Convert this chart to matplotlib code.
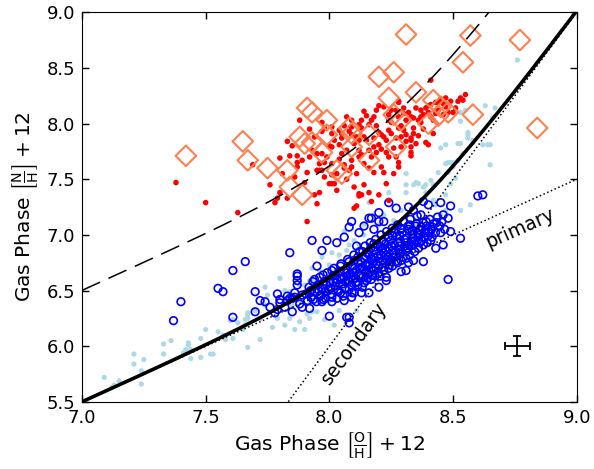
import numpy as np
import matplotlib
matplotlib.use("Agg")
import matplotlib.pyplot as plt

# --- data ------------------------------------------------------------------
# light blue filled dots
lb_x = [7.09, 7.12, 7.13, 7.15, 7.21, 7.21, 7.25, 7.24, 7.24, 7.33, 7.33, 7.36,
        7.41, 7.42, 7.44, 7.43, 7.44, 7.48, 7.50, 7.48, 7.52, 7.53, 7.55, 7.57,
        7.58, 7.60, 7.61, 7.65, 7.66, 7.66, 7.67, 7.67, 7.67, 7.43, 7.61, 7.63,
        7.67, 7.72, 7.74, 7.75, 7.80, 7.82, 7.77, 7.82, 7.79, 7.70, 7.72, 7.74,
        7.76, 7.84, 7.86, 7.88, 7.90, 7.92, 7.95, 7.98, 8.02, 8.04, 7.88, 7.85,
        7.92, 7.96, 8.00, 8.03, 8.06, 8.04, 8.08, 8.10, 8.14, 8.16, 8.18, 8.22,
        8.24, 8.31, 8.35, 8.38, 8.42, 8.31, 8.31, 8.34, 8.36, 8.39, 8.41, 8.44,
        8.48, 8.49, 8.53, 8.56, 8.58, 8.64, 8.65, 8.49, 8.47, 8.43, 8.47, 8.39,
        8.42, 8.76, 8.63, 8.67, 8.66, 8.53, 8.53, 8.56, 8.56, 8.58, 8.52, 8.62,
        8.47, 8.45, 8.54, 8.52, 8.50, 8.47, 8.50, 8.48, 8.51, 8.65, 8.55, 8.37,
        8.29, 8.26, 8.20, 8.14, 8.12, 8.07, 8.00, 7.96, 7.93, 7.90, 8.22, 8.26,
        8.31, 8.35, 8.39, 8.45, 8.53, 8.57, 7.83, 7.84, 7.88, 7.92, 7.93, 7.97,
        8.01, 7.91, 8.00, 8.07, 8.11, 7.93]
lb_y = [5.72, 5.63, 5.65, 5.69, 5.93, 5.84, 5.88, 5.78, 5.66, 6.02, 5.93, 6.05,
        5.94, 5.97, 5.97, 6.01, 5.89, 6.07, 6.15, 5.90, 5.93, 5.93, 6.13, 6.10,
        6.06, 6.23, 6.07, 6.15, 6.19, 6.24, 6.28, 6.30, 5.99, 6.03, 6.24, 6.21,
        6.25, 6.06, 6.53, 6.46, 6.61, 6.50, 6.17, 6.19, 6.25, 6.32, 6.25, 6.37,
        6.31, 6.25, 6.15, 6.22, 6.15, 6.25, 6.31, 6.24, 6.19, 6.32, 6.41, 6.37,
        6.41, 6.50, 6.59, 6.68, 7.03, 6.82, 6.91, 6.95, 7.09, 7.29, 7.18, 7.18,
        7.38, 7.45, 7.47, 7.43, 7.45, 7.55, 7.38, 7.45, 7.46, 7.45, 7.49, 7.56,
        7.65, 7.65, 7.82, 7.90, 7.85, 7.81, 7.81, 7.46, 7.36, 7.27, 7.22, 7.38,
        7.31, 8.57, 8.16, 8.14, 8.05, 8.10, 8.02, 7.92, 7.87, 7.83, 7.82, 7.81,
        7.81, 7.78, 7.73, 7.67, 7.65, 7.64, 7.61, 7.56, 7.51, 7.63, 8.12, 7.31,
        7.22, 7.13, 7.09, 7.00, 6.91, 6.86, 6.73, 6.68, 6.59, 6.55, 6.95, 7.00,
        7.06, 7.09, 7.15, 7.18, 7.22, 7.27, 6.41, 6.49, 6.55, 6.59, 6.70, 6.80,
        6.84, 6.29, 6.41, 6.44, 6.32, 6.31]

# blue open circles: scattered outliers, then the dense band
bc_outer = [(7.37, 6.23), (7.40, 6.40), (7.55, 6.52), (7.57, 6.49), (7.61, 6.68),
            (7.66, 6.76), (7.61, 6.26), (7.70, 6.49), (7.70, 6.31), (7.72, 6.41),
            (7.74, 6.40), (7.79, 6.47), (7.80, 6.42), (7.84, 6.84), (7.87, 6.55),
            (7.87, 6.63), (7.85, 6.31), (7.83, 6.41), (7.84, 6.43), (7.85, 6.43),
            (7.79, 6.33), (7.93, 6.95), (7.97, 6.86), (7.99, 6.95), (8.03, 6.93),
            (8.08, 7.07), (8.09, 7.12), (8.16, 7.15), (8.17, 7.15), (8.20, 7.12),
            (8.20, 7.20), (8.24, 7.29), (8.27, 7.24), (8.32, 7.25), (8.34, 7.22),
            (8.37, 7.18), (8.38, 7.30), (8.40, 7.27), (8.45, 7.29), (8.49, 7.26),
            (8.48, 7.15), (8.49, 7.03), (8.53, 6.97), (8.46, 6.91), (8.48, 6.60),
            (8.60, 7.35), (8.62, 7.36), (8.08, 6.26), (8.08, 6.21), (7.82, 6.35),
            (7.95, 6.72), (7.87, 6.65), (7.87, 6.59), (7.80, 6.39), (7.86, 6.44),
            (7.89, 6.46), (7.92, 6.49), (7.89, 6.35), (7.92, 6.34), (8.00, 6.27),
            (8.07, 6.26), (8.09, 6.44), (8.38, 6.76), (8.32, 6.75), (8.29, 6.67),
            (8.23, 6.62), (8.13, 6.48), (8.10, 6.48), (8.01, 6.40), (7.97, 6.40),
            (8.03, 6.43), (8.06, 6.41), (7.76, 6.35), (7.78, 6.30), (7.83, 6.45),
            (7.86, 6.48), (7.88, 6.38), (8.06, 6.98), (8.12, 7.02), (8.14, 7.08),
            (8.18, 7.05), (8.11, 6.90), (8.22, 7.12), (8.34, 6.77), (8.31, 6.68),
            (8.23, 6.59), (8.20, 6.53), (8.16, 6.48), (8.43, 6.88), (8.41, 6.95)]
bc_core = [(7.905, 6.47), (7.912, 6.41), (7.918, 6.53), (7.927, 6.44), (7.934, 6.58),
           (7.941, 6.49), (7.948, 6.40), (7.953, 6.55), (7.961, 6.62), (7.966, 6.46),
           (7.972, 6.52), (7.979, 6.58), (7.984, 6.43), (7.991, 6.66), (7.996, 6.51),
           (8.003, 6.57), (8.008, 6.47), (8.014, 6.63), (8.019, 6.70), (8.024, 6.54),
           (8.031, 6.60), (8.036, 6.49), (8.042, 6.67), (8.047, 6.74), (8.053, 6.56),
           (8.058, 6.62), (8.063, 6.52), (8.068, 6.69), (8.074, 6.78), (8.079, 6.59),
           (8.084, 6.65), (8.089, 6.55), (8.094, 6.72), (8.099, 6.82), (8.104, 6.61),
           (8.108, 6.68), (8.113, 6.58), (8.117, 6.75), (8.122, 6.85), (8.126, 6.64),
           (8.131, 6.71), (8.135, 6.62), (8.139, 6.79), (8.144, 6.90), (8.148, 6.67),
           (8.152, 6.74), (8.157, 6.65), (8.161, 6.82), (8.165, 6.93), (8.169, 6.70),
           (8.174, 6.78), (8.178, 6.68), (8.183, 6.86), (8.187, 6.96), (8.191, 6.74),
           (8.196, 6.81), (8.201, 6.72), (8.205, 6.89), (8.209, 7.00), (8.214, 6.77),
           (8.218, 6.84), (8.223, 6.75), (8.227, 6.92), (8.231, 7.03), (8.236, 6.80),
           (8.241, 6.88), (8.245, 6.78), (8.249, 6.95), (8.254, 7.06), (8.258, 6.84),
           (8.263, 6.91), (8.267, 6.82), (8.272, 6.99), (8.276, 7.09), (8.281, 6.87),
           (8.286, 6.94), (8.291, 6.85), (8.295, 7.02), (8.301, 7.12), (8.306, 6.90),
           (8.311, 6.97), (8.316, 6.88), (8.321, 7.05), (8.327, 7.14), (8.332, 6.94),
           (8.338, 7.01), (8.343, 6.92), (8.349, 7.08), (8.355, 7.17), (8.361, 6.98),
           (8.367, 7.04), (8.373, 6.95), (8.379, 7.11), (8.386, 7.02), (8.393, 7.08),
           (8.399, 6.99), (8.406, 7.14), (8.413, 7.05), (8.421, 7.10), (8.429, 7.02),
           (8.437, 7.16), (8.446, 7.08), (8.455, 7.12), (8.466, 7.05),
           (7.925, 6.50), (7.958, 6.50), (7.988, 6.55), (8.016, 6.58), (8.044, 6.61),
           (8.071, 6.63), (8.097, 6.66), (8.124, 6.70), (8.150, 6.72), (8.176, 6.75),
           (8.203, 6.79), (8.229, 6.82), (8.256, 6.86), (8.283, 6.90), (8.309, 6.93),
           (8.336, 6.97), (8.362, 7.00), (8.388, 7.04), (7.940, 6.60), (7.975, 6.64),
           (8.010, 6.68), (8.045, 6.72), (8.080, 6.76), (8.115, 6.80), (8.150, 6.84),
           (8.185, 6.89), (8.220, 6.94), (8.255, 6.99), (8.290, 7.05), (8.325, 7.09),
           (7.975, 6.42), (8.010, 6.44), (8.045, 6.48), (8.080, 6.51), (8.115, 6.55),
           (8.150, 6.59), (8.185, 6.63), (8.220, 6.68), (8.255, 6.72), (8.290, 6.77),
           (8.325, 6.82), (8.360, 6.88), (8.395, 6.93),
           (7.935, 6.42), (7.962, 6.45), (7.983, 6.49), (8.006, 6.52), (8.027, 6.57),
           (8.033, 6.51), (8.051, 6.60), (8.056, 6.45), (8.066, 6.58), (8.072, 6.66),
           (8.087, 6.62), (8.092, 6.48), (8.102, 6.70), (8.106, 6.57), (8.119, 6.64),
           (8.128, 6.76), (8.133, 6.53), (8.142, 6.69), (8.146, 6.81), (8.155, 6.61),
           (8.163, 6.73), (8.167, 6.88), (8.172, 6.64), (8.181, 6.80), (8.189, 6.70),
           (8.194, 6.91), (8.199, 6.66), (8.207, 6.82), (8.212, 6.95), (8.216, 6.71),
           (8.225, 6.87), (8.233, 6.78), (8.238, 6.98), (8.243, 6.73), (8.251, 6.90),
           (8.259, 6.80), (8.265, 7.02), (8.269, 6.76), (8.278, 6.93), (8.284, 6.83),
           (8.289, 7.06), (8.297, 6.80), (8.303, 6.96), (8.313, 6.86), (8.318, 7.08),
           (8.329, 6.90), (8.334, 7.04), (8.345, 6.95), (8.352, 7.10), (8.364, 6.93),
           (8.371, 7.07), (8.382, 6.98), (8.391, 7.12), (8.402, 7.03), (8.417, 7.07),
           (8.433, 7.11), (8.450, 7.02), (8.460, 7.18), (8.025, 6.64), (8.060, 6.68),
           (8.095, 6.60), (8.135, 6.85), (8.170, 6.60), (8.205, 6.63), (8.240, 6.70),
           (8.275, 6.75), (8.310, 6.79), (8.345, 6.85), (8.380, 6.91), (8.415, 6.98),
           (8.100, 6.77), (8.140, 6.57), (8.180, 6.92), (8.215, 6.88), (8.250, 6.76),
           (8.285, 6.99), (8.320, 6.91), (8.355, 7.02)]

# red filled dots
rd_x = [7.38, 7.50, 7.63, 7.69, 7.76, 7.80, 7.78, 7.80, 7.83, 7.84, 7.87, 7.87,
        7.87, 7.86, 7.88, 7.90, 7.91, 7.92, 7.93, 7.95, 7.97, 7.95, 7.96, 7.97,
        7.98, 7.96, 7.97, 7.97, 8.00, 7.79, 7.83, 7.81, 7.91, 7.95, 8.01, 8.02,
        8.06, 8.11, 8.12, 8.10, 7.94, 8.10, 8.13, 8.17, 8.20, 8.23, 8.41, 8.55,
        8.52, 8.47, 8.46, 8.44, 8.43, 8.41, 8.39, 8.37, 8.35, 8.50, 8.48, 8.46,
        8.43, 8.40, 8.41, 8.37, 8.37, 8.34, 8.33, 8.31, 8.30, 8.28, 8.27, 8.28,
        8.28, 8.25, 8.24, 8.24, 8.22, 8.20, 8.18, 8.17, 8.16, 8.14, 8.13, 8.12,
        8.09, 8.09, 8.07, 8.04, 8.05, 8.05, 8.01, 8.01, 7.98, 8.30, 8.31, 8.33,
        8.34, 8.33, 8.35, 8.28, 8.29, 8.24, 8.25, 8.22, 8.21, 8.20, 8.18, 8.20,
        8.18, 8.16, 8.19, 8.39, 8.40, 8.42, 8.33, 8.33, 8.33, 8.29, 8.27, 8.28,
        8.28, 8.23, 8.24, 8.14, 8.12, 8.13, 8.12, 8.09, 8.09, 8.14, 8.16, 8.18,
        8.21, 8.22, 8.12, 8.16, 8.03, 8.01, 8.03, 8.06, 8.08, 8.05, 8.01, 7.96,
        8.01, 8.04, 8.12, 8.09, 8.11, 8.54, 8.24]
rd_y = [7.47, 7.29, 7.20, 7.63, 7.45, 7.38, 7.29, 7.69, 7.84, 7.71, 7.71, 7.65,
        7.61, 7.52, 8.03, 7.47, 7.56, 7.95, 7.76, 7.73, 7.73, 7.58, 7.58, 7.58,
        7.65, 7.38, 8.01, 7.93, 7.46, 7.33, 7.33, 7.55, 7.12, 7.28, 7.46, 7.46,
        7.63, 7.26, 7.35, 7.24, 7.36, 7.43, 7.36, 7.30, 7.36, 7.46, 8.39, 8.26,
        8.20, 8.23, 8.18, 8.19, 8.19, 8.17, 8.14, 8.12, 8.14, 8.10, 8.10, 8.08,
        8.09, 8.10, 8.06, 8.06, 8.01, 8.05, 8.06, 8.03, 8.09, 8.06, 8.12, 8.19,
        8.20, 8.12, 8.08, 8.03, 8.15, 8.16, 8.06, 8.03, 7.99, 8.11, 8.03, 7.99,
        8.03, 7.97, 8.06, 7.94, 7.91, 7.87, 7.97, 7.91, 7.96, 7.94, 7.90, 7.87,
        7.91, 7.85, 7.82, 7.96, 7.88, 7.94, 7.91, 7.88, 7.90, 7.92, 7.87, 7.81,
        7.79, 7.76, 7.74, 7.83, 7.81, 7.91, 7.79, 7.74, 7.71, 7.79, 7.70, 7.65,
        7.61, 7.74, 7.70, 7.88, 7.85, 7.72, 7.70, 7.67, 7.61, 7.64, 7.60, 7.56,
        7.61, 7.56, 7.37, 7.38, 7.55, 7.54, 7.40, 7.60, 7.58, 7.73, 7.79, 7.64,
        7.64, 7.81, 7.76, 7.90, 7.88, 8.21, 7.31]
rd_extra = [(7.85, 7.80), (7.89, 7.67), (7.94, 7.88), (7.99, 7.70), (8.02, 7.85),
            (8.04, 7.68), (8.07, 7.76), (8.08, 7.93), (8.10, 7.82), (8.11, 7.55),
            (8.13, 7.96), (8.15, 7.85), (8.17, 7.70), (8.19, 7.98), (8.21, 7.77),
            (8.23, 7.85), (8.25, 8.01), (8.26, 7.78), (8.27, 7.87), (8.29, 7.98),
            (8.30, 8.14), (8.31, 7.84), (8.32, 8.10), (8.34, 7.96), (8.36, 8.03),
            (8.36, 7.89), (8.38, 8.08), (8.38, 7.95), (8.40, 8.16), (8.42, 8.03),
            (8.44, 8.12), (8.45, 8.22), (8.47, 8.15), (8.49, 8.20), (8.51, 8.14),
            (8.53, 8.23), (8.19, 8.12), (8.15, 8.07), (8.06, 7.98), (8.00, 7.80),
            (7.92, 7.70), (7.98, 7.52), (8.14, 7.45), (8.26, 7.55), (8.07, 7.50)]

# coral open diamonds
dm_x = [7.42, 7.65, 7.67, 7.75, 7.83, 7.84, 7.89, 7.88, 7.90, 7.93, 7.91, 7.93,
        7.97, 7.99, 7.99, 8.08, 8.09, 8.03, 8.05, 8.16, 8.20, 8.26, 8.31, 8.57,
        8.77, 8.54, 8.24, 8.35, 8.42, 8.26, 8.29, 8.45, 8.48, 8.44, 8.58, 8.40,
        8.27, 8.84, 8.09, 8.16]
dm_y = [7.71, 7.84, 7.67, 7.60, 7.58, 7.43, 7.36, 7.88, 7.82, 7.83, 8.14, 8.10,
        7.74, 8.03, 7.90, 7.96, 7.91, 7.58, 7.55, 7.67, 8.42, 8.46, 8.80, 8.79,
        8.75, 8.55, 8.23, 8.28, 8.21, 8.08, 8.03, 8.15, 8.10, 8.07, 8.08, 8.00,
        7.79, 7.96, 7.79, 7.90]

# typical uncertainty marker
err_x, err_y = 8.76, 6.00
err_dx, err_dy = 0.05, 0.09

# model tracks: log(N/H) = log(10^(O + prim) + 10^(3 O + sec))
prim_off = -1.5
sec_slope, sec_off = 3.0, -18.0
upper_shift = 1.0

bc_x = [p[0] for p in bc_outer + bc_core]
bc_y = [p[1] for p in bc_outer + bc_core]
red_x = rd_x + [p[0] for p in rd_extra]
red_y = rd_y + [p[1] for p in rd_extra]

plt.rcParams["mathtext.default"] = "regular"

fig = plt.figure(figsize=(5.94, 4.69), dpi=100)
ax = fig.add_axes([0.138, 0.143, 0.833, 0.831])

ax.scatter(lb_x, lb_y, s=14, color="lightblue", edgecolors="none", zorder=1)
ax.scatter(bc_x, bc_y, s=30, facecolors="none", edgecolors="blue",
           linewidths=1.2, zorder=2)
ax.scatter(red_x, red_y, s=16, color="red", edgecolors="none", zorder=3)
ax.scatter(dm_x, dm_y, s=110, marker="D", facecolors="none", edgecolors="coral",
           linewidths=1.5, zorder=4)

oh = np.linspace(7.0, 9.0, 400)
solid = np.log10(10 ** (oh + prim_off) + 10 ** (sec_slope * oh + sec_off))
ax.plot(oh, solid, color="black", lw=2.6, zorder=6)
ax.plot(oh, solid + upper_shift, color="black", lw=1.1, dashes=(13, 6), zorder=6)
ax.plot(oh, oh + prim_off, color="black", lw=1.1, ls=":", zorder=5)
ax.plot(oh, sec_slope * oh + sec_off, color="black", lw=1.1, ls=":", zorder=5)

ax.errorbar(err_x, err_y, xerr=err_dx, yerr=err_dy, color="black", lw=1.3,
            capsize=3, capthick=1.3, zorder=7)

ax.text(8.77, 7.06, "primary", rotation=24, fontsize=13.5,
        ha="center", va="center")
ax.text(8.10, 6.03, "secondary", rotation=53.5, fontsize=13.5,
        ha="center", va="center")

ax.set_xlim(7.0, 9.0)
ax.set_ylim(5.5, 9.0)
ax.set_xticks([7.0, 7.5, 8.0, 8.5, 9.0])
ax.set_yticks([5.5, 6.0, 6.5, 7.0, 7.5, 8.0, 8.5, 9.0])
ax.tick_params(direction="in", top=True, right=True, labelsize=13,
               length=5, width=1, pad=5)
ax.set_xlabel(r"Gas Phase $\left[\frac{O}{H}\right] + 12$", fontsize=14.5,
              labelpad=3)
ax.set_ylabel(r"Gas Phase $\left[\frac{N}{H}\right] + 12$", fontsize=14.5,
              labelpad=4)

fig.savefig("out.png", dpi=100)
